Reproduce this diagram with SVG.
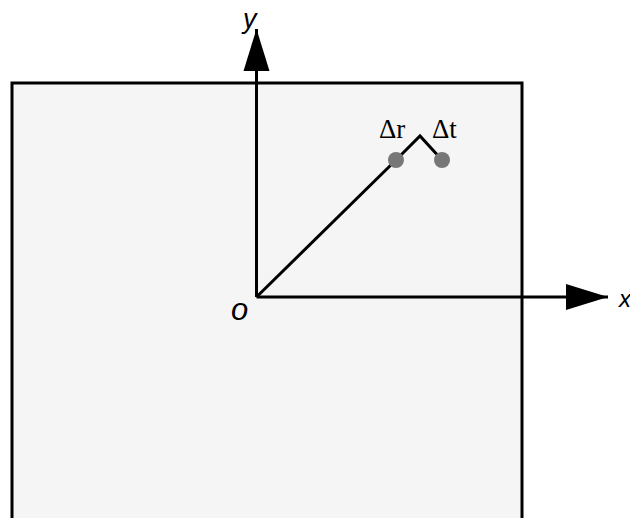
<svg xmlns="http://www.w3.org/2000/svg" width="630" height="518" viewBox="0 0 630 518">
<style>
.ax{stroke:#000;stroke-width:3;fill:none}
.lbl{font-family:"Liberation Sans",Arial,sans-serif;font-style:italic;fill:#000}
.dl{font-family:"Liberation Serif","Times New Roman",serif;font-size:27px;fill:#000}
.dot{fill:#777}
</style>
<defs>
<marker id="arr" markerUnits="userSpaceOnUse" markerWidth="44" markerHeight="30" refX="42" refY="15" orient="auto">
<path d="M0,2 L42,15 L0,28 Z" fill="#000"/>
</marker>
</defs>
<g id="plane">
<rect x="12" y="83" width="510" height="460" fill="#f5f5f5" stroke="#000" stroke-width="3"/>
</g>
<g id="connectors">
<line class="ax" x1="256.5" y1="297" x2="256.5" y2="29" marker-end="url(#arr)"/>
<line class="ax" x1="256.5" y1="297" x2="608" y2="297" marker-end="url(#arr)"/>
<line class="ax" x1="256.5" y1="297" x2="396" y2="160"/>
<polyline class="ax" points="396,160 420,136 442,160"/>
</g>
<g id="labels">
<text class="lbl" x="243" y="28" font-size="27">y</text>
<text class="lbl" x="619" y="307" font-size="24">x</text>
<text class="lbl" x="231" y="320" font-size="31">o</text>
</g>
<g id="point-r">
<circle class="dot" cx="396" cy="160" r="8"/>
<text class="dl" x="379" y="138">Δr</text>
</g>
<g id="point-t">
<circle class="dot" cx="442" cy="160" r="8"/>
<text class="dl" x="432" y="138">Δt</text>
</g>
</svg>
